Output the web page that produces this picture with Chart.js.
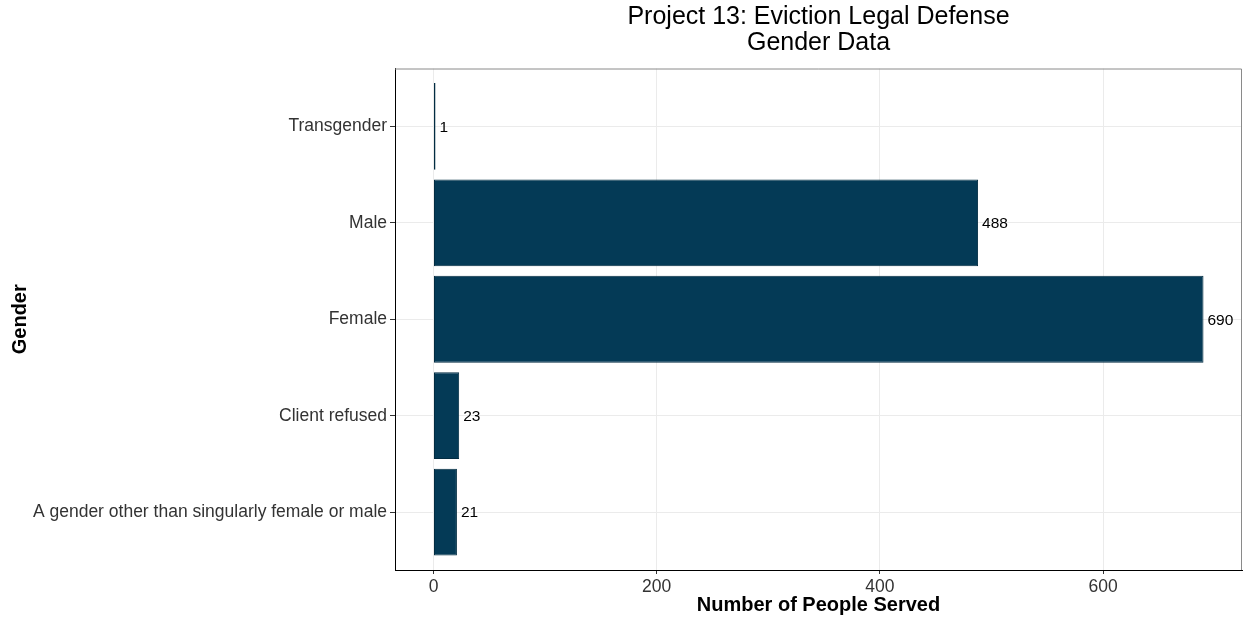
<!DOCTYPE html>
<html>
<head>
<meta charset="utf-8">
<script src="https://cdn.jsdelivr.net/npm/chart.js@4/dist/chart.umd.min.js"></script>
<style>
  html, body { margin: 0; padding: 0; background: #fff; }
  #wrap { width: 1247px; height: 620px; }
</style>
</head>
<body>
<div id="wrap"><canvas id="genderChart"></canvas></div>
<script>
// categories, top to bottom
const categories = [
  "Transgender",
  "Male",
  "Female",
  "Client refused",
  "A gender other than singularly female or male"
];
const peopleServed = [1, 488, 690, 23, 21];
const xTicks = [0, 200, 400, 600];

const barFill = "#043a56";
const barEdge = "#022c42";
const tickText = "#333333";
const font = "Liberation Sans, Arial, Helvetica, sans-serif";

// value labels at the end of each bar
const valueLabels = {
  id: "valueLabels",
  afterDatasetsDraw(chart) {
    const ctx = chart.ctx;
    const meta = chart.getDatasetMeta(0);
    ctx.save();
    ctx.font = "15.5px " + font;
    ctx.fillStyle = "#000";
    ctx.textAlign = "left";
    ctx.textBaseline = "middle";
    meta.data.forEach(function (bar, i) {
      ctx.fillText(String(peopleServed[i]), bar.x + 4, bar.y + 1);
    });
    ctx.restore();
  }
};

// grey panel border on top and right
const panelBorder = {
  id: "panelBorder",
  afterDraw(chart) {
    const a = chart.chartArea;
    const ctx = chart.ctx;
    ctx.save();
    ctx.strokeStyle = "#8a8a8a";
    ctx.lineWidth = 1;
    ctx.beginPath();
    ctx.moveTo(a.left, a.top + 0.5);
    ctx.lineTo(a.right - 0.5, a.top + 0.5);
    ctx.lineTo(a.right - 0.5, a.bottom);
    ctx.stroke();
    ctx.restore();
  }
};

const ctx = document.getElementById("genderChart").getContext("2d");
new Chart(ctx, {
  type: "bar",
  data: {
    datasets: [
      {
        label: "Number of People Served",
        data: peopleServed.map(function (v, i) { return { x: v, y: i + 1 }; }),
        backgroundColor: barFill,
        borderColor: barEdge,
        borderWidth: 1,
        borderSkipped: false,
        inflateAmount: 0,
        minBarLength: 2,
        barPercentage: 0.9,
        categoryPercentage: 1.0
      }
    ]
  },
  options: {
    indexAxis: "y",
    responsive: true,
    maintainAspectRatio: false,
    animation: false,
    layout: { padding: { left: 0, right: 5, top: 0, bottom: 0 } },
    plugins: {
      legend: { display: false },
      tooltip: { enabled: false },
      title: {
        display: true,
        fullSize: false,
        text: ["Project 13: Eviction Legal Defense", "Gender Data"],
        color: "#000",
        font: { family: font, size: 25, weight: "normal", lineHeight: 1.05 },
        padding: { top: 4, bottom: 12 }
      }
    },
    scales: {
      x: {
        type: "linear",
        min: -34.5,
        max: 724.5,
        afterBuildTicks(scale) {
          scale.ticks = xTicks.map(function (v) { return { value: v }; });
        },
        afterFit(scale) { scale.height = 50; },
        ticks: { color: tickText, font: { family: font, size: 17.5 }, padding: 3, maxRotation: 0 },
        grid: { color: "#ebebeb", lineWidth: 1, tickColor: "#333", tickLength: 4 },
        border: { color: "#000", width: 1 },
        title: {
          display: true,
          text: "Number of People Served",
          color: "#000",
          font: { family: font, size: 20, weight: "bold" },
          padding: { top: 0, bottom: 3 }
        }
      },
      y: {
        type: "linear",
        reverse: true,
        offset: false,
        min: 0.4,
        max: 5.6,
        afterBuildTicks(scale) {
          scale.ticks = categories.map(function (c, i) { return { value: i + 1 }; });
        },
        afterFit(scale) { scale.width = 395; },
        ticks: {
          color: tickText,
          font: { family: font, size: 17.5 },
          padding: 3,
          callback: function (value) { return categories[value - 1]; }
        },
        grid: { offset: false, color: "#ebebeb", lineWidth: 1, tickColor: "#333", tickLength: 5 },
        border: { color: "#000", width: 1 },
        title: {
          display: true,
          text: "Gender",
          color: "#000",
          font: { family: font, size: 20, weight: "bold" },
          padding: { top: 8, bottom: 0 }
        }
      }
    }
  },
  plugins: [valueLabels, panelBorder]
});
</script>
</body>
</html>
